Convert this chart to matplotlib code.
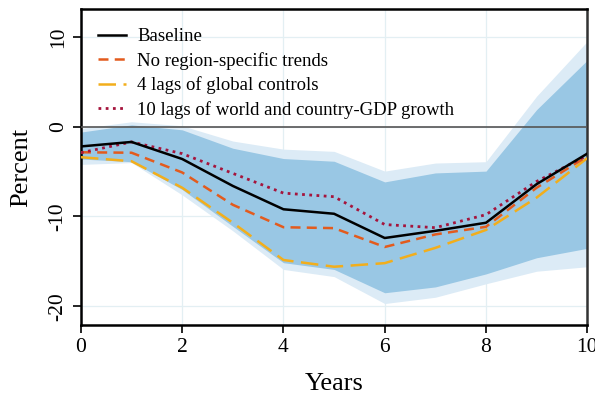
import numpy as np
import matplotlib.pyplot as plt

years = [0, 1, 2, 3, 4, 5, 6, 7, 8, 9, 10]

# point estimates
baseline = [-2.2, -1.7, -3.6, -6.6, -9.2, -9.7, -12.4, -11.6, -10.7, -6.4, -3.0]
no_region = [-2.85, -2.9, -5.1, -8.7, -11.2, -11.3, -13.4, -12.0, -11.15, -6.8, -3.3]
global_lags = [-3.4, -3.85, -6.8, -10.7, -14.85, -15.6, -15.2, -13.5, -11.5, -7.9, -3.5]
gdp_lags = [-2.9, -1.7, -3.0, -5.2, -7.4, -7.8, -10.9, -11.25, -9.8, -6.1, -3.2]

# confidence bands
inner_hi = [-0.6, 0.2, -0.35, -2.4, -3.55, -3.85, -6.15, -5.15, -4.95, 1.9, 7.4]
inner_lo = [-3.6, -3.9, -7.0, -11.1, -15.15, -15.9, -18.5, -17.85, -16.4, -14.6, -13.55]
outer_hi = [-0.2, 0.55, 0.1, -1.6, -2.5, -2.75, -4.95, -4.05, -3.9, 3.4, 9.5]
outer_lo = [-4.2, -4.0, -7.6, -11.6, -15.9, -16.7, -19.7, -19.0, -17.5, -16.1, -15.6]

plt.rcParams['font.family'] = ['Liberation Serif', 'DejaVu Serif']
plt.rcParams['axes.unicode_minus'] = False

fig = plt.figure(figsize=(5.95, 3.95), dpi=100)
ax = fig.add_axes([0.136, 0.177, 0.851, 0.8])

ax.fill_between(years, outer_lo, outer_hi, color='#dcebf6', lw=0, zorder=1)
ax.fill_between(years, inner_lo, inner_hi, color='#99c7e4', lw=0, zorder=2)

ax.axhline(0, color='#555555', lw=1.2, zorder=3)

ax.plot(years, baseline, color='black', lw=1.8, label='Baseline', zorder=6)
ax.plot(years, no_region, color='#e35b1d', lw=1.8, dashes=(4, 2.5),
        label='No region-specific trends', zorder=5)
ax.plot(years, global_lags, color='#f2ae1c', lw=1.8, dashes=(7, 3),
        label='4 lags of global controls', zorder=4)
ax.plot(years, gdp_lags, color='#a5143c', lw=2.0, dashes=(1, 1.6),
        label='10 lags of world and country-GDP growth', zorder=5)

ax.set_xlim(0, 10)
ax.set_ylim(-22.1, 13.1)
ax.set_xticks([0, 2, 4, 6, 8, 10])
ax.set_yticks([-20, -10, 0, 10])
ax.grid(True, color='#e3eff3', lw=0.9, zorder=0)
ax.set_axisbelow(True)

ax.tick_params(axis='both', direction='out', length=6, width=1.2, labelsize=15.5)
ax.tick_params(axis='x', pad=3)
for lab in ax.get_yticklabels():
    lab.set_rotation(90)
    lab.set_va('center')

for side in ['left', 'bottom', 'top', 'right']:
    ax.spines[side].set_linewidth(1.8)
ax.spines['right'].set_color('#333333')

ax.set_xlabel('Years', fontsize=19, labelpad=12)
ax.set_ylabel('Percent', fontsize=19, labelpad=12)

ax.legend(loc='upper left', frameon=False, fontsize=13.5, handlelength=1.5,
          handletextpad=0.6, borderaxespad=0.5, labelspacing=0.35,
          bbox_to_anchor=(0.0, 0.993))

fig.savefig('out.png', dpi=100)
